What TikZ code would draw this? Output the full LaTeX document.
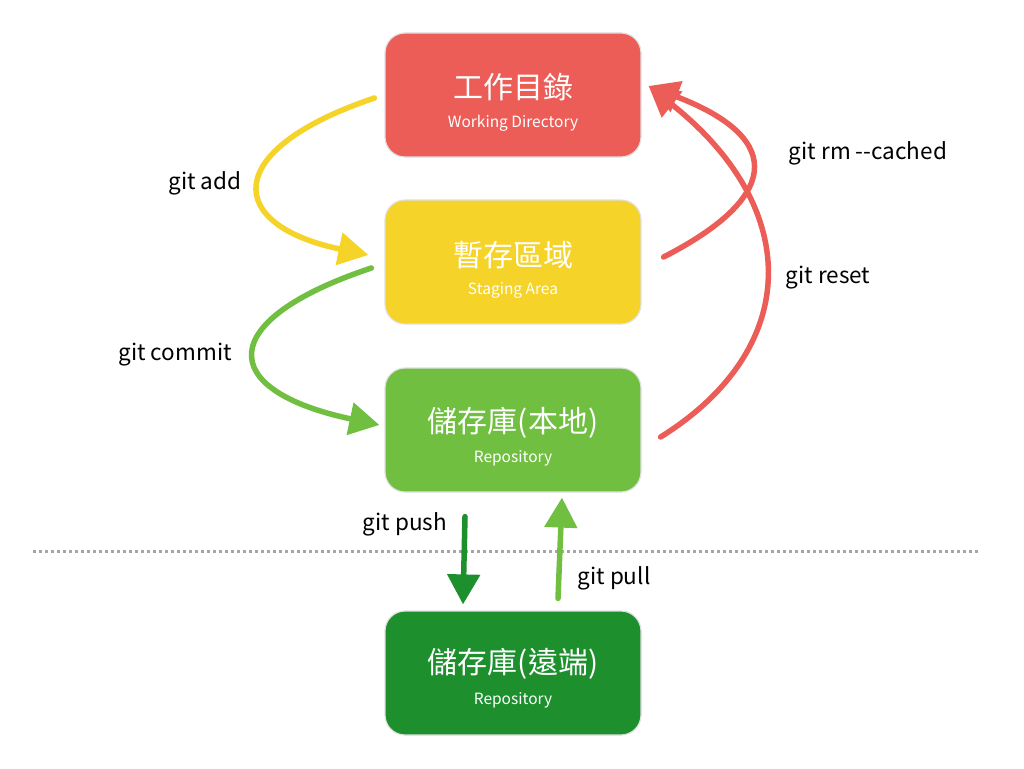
\documentclass[tikz,border=0pt]{standalone}
\usepackage{fontspec}
\setmainfont{Noto Sans CJK TC}
\usetikzlibrary{arrows.meta,calc}
\definecolor{cred}{HTML}{EC5D57}
\definecolor{cyellow}{HTML}{F5D328}
\definecolor{cgreen}{HTML}{70BF41}
\definecolor{cdgreen}{HTML}{1D8F2D}
\begin{document}
\begin{tikzpicture}[x=1pt,y=-1pt,
  box/.style={draw=black!12,line width=1.2pt,rounded corners=20pt,minimum width=256pt,minimum height=124pt,inner sep=0pt},
  boxtitle/.style={text=white,font=\fontsize{30}{32}\selectfont,inner sep=0pt},
  boxsub/.style={text=white,font=\fontsize{15.5}{17}\selectfont,inner sep=0pt},
  lab/.style={text=black,font=\fontsize{22.5}{25}\selectfont,inner sep=0pt},
  arr/.style={line width=5.5pt,line cap=round,-{Triangle[length=30pt,width=32pt]}}]
\useasboundingbox (0,0) rectangle (1024,768);
% boxes
\node[box,fill=cred] (wd) at (513,95) {};
\node[box,fill=cyellow] (st) at (513,262) {};
\node[box,fill=cgreen] (lr) at (513,430) {};
\node[box,fill=cdgreen] (rr) at (513,673) {};
\node[boxtitle] (wdc) at (513,87) {工作目錄};
\node[boxsub] (wds) at (513,123) {Working Directory};
\node[boxtitle] (stc) at (513,255) {暫存區域};
\node[boxsub] (sts) at (513,290) {Staging Area};
\node[boxtitle] (lrc) at (513,423) {儲存庫(本地)};
\node[boxsub] (lrs) at (513,458) {Repository};
\node[boxtitle] (rrc) at (513,664) {儲存庫(遠端)};
\node[boxsub] (rrs) at (513,700) {Repository};
% dotted separator
\coordinate (dl) at (33,551);
\coordinate (dr) at (978,551);
\draw[black!35,line width=3pt,dash pattern=on 3pt off 3pt] (dl) -- (dr);
% anchor points
\coordinate (a1) at ($(wd.west)+(-10,3)$);
\coordinate (a2) at ($(st.west)+(-16,-7)$);
\coordinate (c1) at ($(st.west)+(-13,6)$);
\coordinate (c2) at ($(lr.west)+(-5,-5)$);
\coordinate (r1) at ($(st.east)+(22,-5)$);
\coordinate (r2) at ($(wd.east)+(7,-9)$);
\coordinate (s1) at ($(lr.east)+(19,7)$);
\coordinate (p1) at ($(lr.south)+(-48,24)$);
\coordinate (p2) at ($(rr.north)+(-50,-6)$);
\coordinate (q1) at ($(rr.north)+(45,-12)$);
\coordinate (q2) at ($(lr.south)+(49,5)$);
% arrows
\draw[arr,cyellow] (a1) .. controls (220,150) and (225,225) .. (a2);
\draw[arr,cgreen] (c1) .. controls (215,320) and (215,390) .. (c2);
\draw[arr,cred] (r1) .. controls (775,200) and (790,140) .. (r2);
\draw[arr,cred] (s1) .. controls (800,350) and (805,210) .. (r2);
\draw[arr,cdgreen] (p1) -- (p2);
\draw[arr,cgreen] (q1) -- (q2);
% labels
\node[lab] (l1) at (205,183) {git add};
\node[lab] (l2) at (175,355) {git commit};
\node[lab] (l3) at (868,153) {git rm {-}{-}cached};
\node[lab] (l4) at (828,278) {git reset};
\node[lab] (l5) at (405,524) {git push};
\node[lab] (l6) at (614,578) {git pull};
\end{tikzpicture}
\end{document}
